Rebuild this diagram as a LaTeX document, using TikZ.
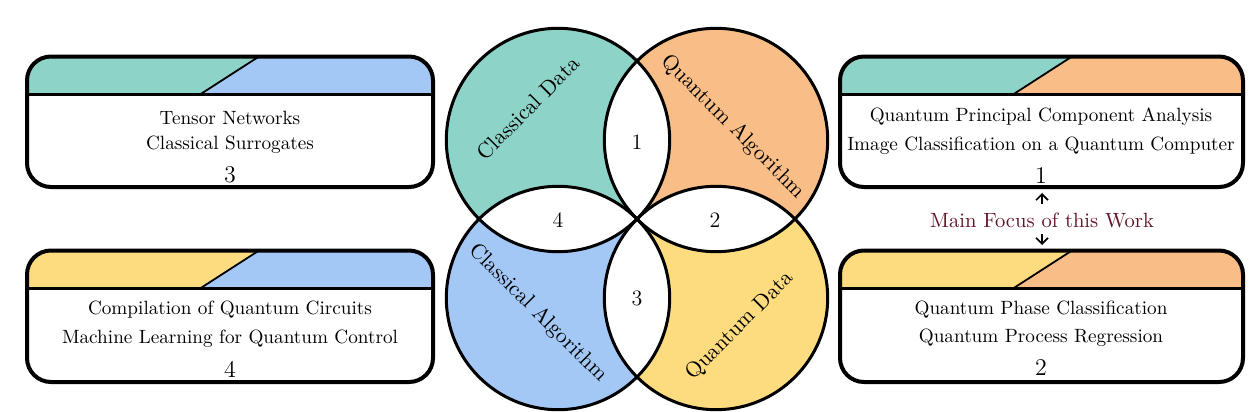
\documentclass[tikz,border=0pt]{standalone}
\usetikzlibrary{arrows.meta}
\definecolor{cteal}{HTML}{8DD3C7}
\definecolor{corange}{HTML}{F9BE87}
\definecolor{cblue}{HTML}{A3C8F5}
\definecolor{cyellow}{HTML}{FDDC7F}
\definecolor{cfocus}{RGB}{100,20,40}
\tikzset{
  ring/.style={line width=1.5pt},
  boxline/.style={line width=2pt},
  bandline/.style={line width=1.6pt},
  diagline/.style={line width=0.9pt},
  lenslabel/.style={font=\fontsize{11}{13}\selectfont, inner sep=0pt},
  circlabel/.style={font=\fontsize{10.8}{13}\selectfont, inner sep=0pt},
  boxtext/.style={font=\fontsize{9.6}{12}\selectfont, inner sep=0pt},
  focustext/.style={font=\fontsize{10.3}{12}\selectfont, inner sep=0pt, text=cfocus},
  boxnum/.style={font=\fontsize{12}{14}\selectfont, inner sep=0pt},
  focusarrow/.style={-{Straight Barb[length=3pt,width=6pt]}, line width=0.8pt}
}
\newcommand{\infobox}[6]{%
  % #1 left x, #2 top y, #3 right x, #4 bottom y, #5 left colour, #6 right colour
  \begin{scope}
    \clip[rounded corners=12pt] (#1,#2) rectangle (#3,#4);
    \fill[white] (#1,#2) rectangle (#3,#4);
    \fill[#5] (#1,#2) rectangle (#3,#2+38);
    \fill[#6] (#1+232,#2) -- (#3,#2) -- (#3,#2+38) -- (#1+173,#2+38) -- cycle;
  \end{scope}
  \draw[diagline] (#1+173,#2+38) -- (#1+232,#2);
  \draw[bandline] (#1,#2+38) -- (#3,#2+38);
  \draw[boxline, rounded corners=12pt] (#1,#2) rectangle (#3,#4);
}
\begin{document}
\begin{tikzpicture}[x=0.5pt,y=-0.5pt]
\useasboundingbox (0,0) rectangle (1254,412);

% ---- Venn diagram ----
\coordinate (tl) at (558,140);
\coordinate (tr) at (716,140);
\coordinate (bl) at (558,298);
\coordinate (br) at (716,298);
\def\R{111.7}
\fill[cteal] (tl) circle (\R);
\fill[corange] (tr) circle (\R);
\fill[cblue] (bl) circle (\R);
\fill[cyellow] (br) circle (\R);
\begin{scope}\clip (tl) circle (\R); \fill[white] (tr) circle (\R); \end{scope}
\begin{scope}\clip (tr) circle (\R); \fill[white] (br) circle (\R); \end{scope}
\begin{scope}\clip (br) circle (\R); \fill[white] (bl) circle (\R); \end{scope}
\begin{scope}\clip (bl) circle (\R); \fill[white] (tl) circle (\R); \end{scope}
\draw[ring] (tl) circle (\R);
\draw[ring] (tr) circle (\R);
\draw[ring] (bl) circle (\R);
\draw[ring] (br) circle (\R);

\node[circlabel, rotate=45] (lcd) at (528,108) {Classical Data};
\node[circlabel, rotate=-45] (lqa) at (733,127) {Quantum Algorithm};
\node[circlabel, rotate=-45] (lca) at (538,313) {Classical Algorithm};
\node[circlabel, rotate=45] (lqd) at (740,326) {Quantum Data};

\node[lenslabel] (n1) at (637,142) {1};
\node[lenslabel] (n4) at (558,220) {4};
\node[lenslabel] (n2) at (715,220) {2};
\node[lenslabel] (n3) at (637,298) {3};

% ---- Boxes ----
\infobox{27}{56.5}{433}{187}{cteal}{cblue}
\infobox{27}{250.5}{433}{382}{cyellow}{cblue}
\infobox{840}{56.5}{1243}{187}{cteal}{corange}
\infobox{840}{250.5}{1243}{382}{cyellow}{corange}

\node[boxtext] (t3a) at (230,118) {Tensor Networks};
\node[boxtext] (t3b) at (230,145) {Classical Surrogates};
\node[boxnum] (t3n) at (230,175) {3};

\node[boxtext] (t4a) at (230,310) {Compilation of Quantum Circuits};
\node[boxtext] (t4b) at (230,339) {Machine Learning for Quantum Control};
\node[boxnum] (t4n) at (230,369) {4};

\node[boxtext] (t1a) at (1041,117) {Quantum Principal Component Analysis};
\node[boxtext] (t1b) at (1041,146) {Image Classification on a Quantum Computer};
\node[boxnum] (t1n) at (1041,176) {1};

\node[boxtext] (t2a) at (1041,310) {Quantum Phase Classification};
\node[boxtext] (t2b) at (1041,338) {Quantum Process Regression};
\node[boxnum] (t2n) at (1041,368) {2};

% ---- Main focus ----
\node[focustext] (focus) at (1042,220) {Main Focus of this Work};
\coordinate (upend) at (1042,193);
\coordinate (upstart) at (1042,204);
\coordinate (downstart) at (1042,234);
\coordinate (downend) at (1042,245);
\draw[focusarrow] (upstart) -- (upend);
\draw[focusarrow] (downstart) -- (downend);
\end{tikzpicture}
\end{document}
